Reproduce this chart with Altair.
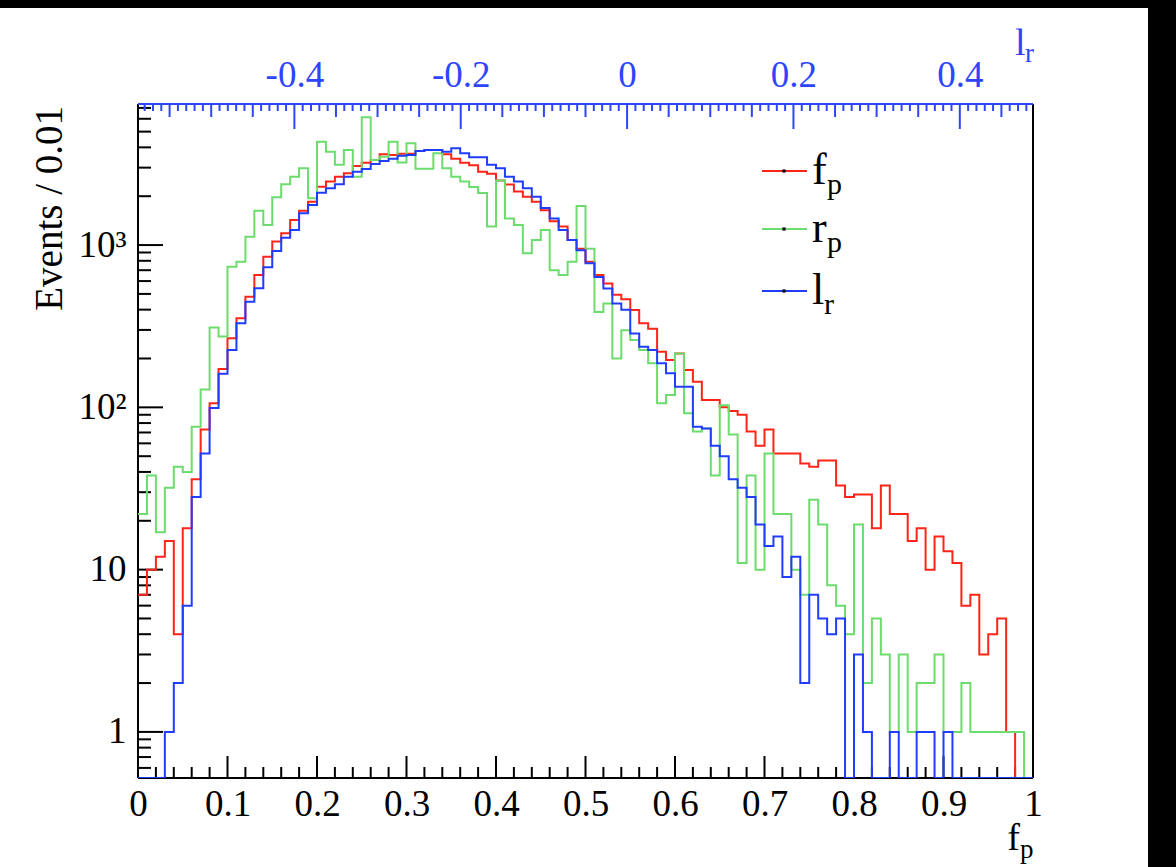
import altair as alt
import numpy as np
import pandas as pd

# ---------------- data ----------------
bin_width = 0.01

fp_counts = [7, 10, 12, 15, 4, 18, 36, 73, 106, 172,
             267, 354, 481, 654, 848, 1050, 1183, 1428, 1629, 1850,
             2290, 2460, 2640, 2767, 3070, 3220, 3345, 3630, 3590, 3650,
             3650, 3800, 3850, 3850, 3630, 3400, 3220, 3100, 2830, 2750,
             2500, 2360, 2140, 1988, 1850, 1640, 1400, 1300, 1075, 950,
             790, 654, 580, 494, 464, 398, 330, 305, 220, 196,
             215, 170, 144, 111, 111, 100, 95, 90, 71, 58,
             73, 52, 52, 52, 45, 43, 47, 47, 33, 28,
             29, 29, 18, 33, 22, 22, 15, 18, 10, 16,
             13, 11, 6, 7, 3, 4, 5, 1, 0, 0]

rp_counts = [22, 38, 17, 32, 43, 40, 76, 129, 310, 273,
             736, 790, 1127, 1629, 1331, 1968, 2370, 2640, 2970, 1940,
             4330, 3763, 3120, 3850, 2640, 6125, 3345, 3500, 4330, 3230,
             4240, 2950, 2950, 3675, 2970, 2640, 2460, 2280, 2090, 1300,
             2500, 1460, 1330, 890, 1075, 1240, 700, 654, 790, 1740,
             950, 387, 436, 200, 299, 260, 226, 187, 106, 119,
             215, 92, 71, 74, 38, 103, 68, 11, 38, 10,
             52, 22, 22, 10, 7, 27, 19, 8, 6, 4,
             19, 2, 5, 3, 1, 3, 1, 2, 2, 3,
             1, 1, 2, 1, 1, 1, 1, 1, 1, 0]

lr_counts = [0, 0, 0, 1, 2, 6, 28, 52, 99, 161,
             226, 330, 448, 542, 730, 920, 1111, 1239, 1570, 1766,
             2103, 2240, 2370, 2640, 2830, 2943, 3160, 3300, 3400, 3550,
             3590, 3800, 3850, 3850, 3760, 3945, 3675, 3476, 3476, 3130,
             2970, 2640, 2460, 2240, 1988, 1690, 1460, 1240, 1075, 930,
             772, 636, 540, 436, 400, 285, 236, 226, 187, 162,
             134, 134, 76, 74, 58, 50, 36, 32, 28, 19,
             14, 16, 9, 12, 2, 7, 5, 4, 5, 0,
             3, 1, 0, 0, 1, 0, 0, 1, 1, 0,
             1, 0, 0, 0, 0, 0, 0, 0, 0, 0]

series_main = ["f", "r", "l"]
series_sub = ["p", "p", "r"]
series_colors = ["#ff2418", "#6cdc6c", "#1f3cff"]

x_tick_values = [0, 0.1, 0.2, 0.3, 0.4, 0.5, 0.6, 0.7, 0.8, 0.9, 1]
y_tick_values = [1, 10, 100, 1000]
y_tick_labels = ["1", "10", "10²", "10³"]
lr_tick_values = [-0.4, -0.2, 0, 0.2, 0.4]

# ---------------- layout ----------------
W, H = 895, 674
Y_MIN, Y_MAX = 0.52, 7400
LR_MIN, LR_MAX = -0.588, 0.488
FONT = "Liberation Serif"
TOP_BLUE = "#2d45ff"
LBL = 37

xscale = alt.Scale(domain=[0, 1], nice=False, zero=False)
yscale = alt.Scale(type="log", domain=[Y_MIN, Y_MAX], nice=False)
lrscale = alt.Scale(domain=[LR_MIN, LR_MAX], nice=False, zero=False)
one = alt.Data(values=[{}])


def hist_df(counts):
    edges = np.round(np.arange(len(counts) + 1) * bin_width, 4)
    vals = list(counts) + [counts[-1]]
    vals = [v if v > 0 else Y_MIN for v in vals]
    return pd.DataFrame({"x": edges, "y": vals})


def hline(x1, x2, y, color, w=2):
    return alt.Chart(one).mark_rule(color=color, strokeWidth=w).encode(
        x=alt.value(x1), x2=alt.value(x2), y=alt.value(y))


def vline(x, y1, y2, color, w=2):
    return alt.Chart(one).mark_rule(color=color, strokeWidth=w).encode(
        x=alt.value(x), y=alt.value(y1), y2=alt.value(y2))


def txt(s, x, y, size, color="black", align="left", **kw):
    return alt.Chart(one).mark_text(text=s, font=FONT, fontSize=size, color=color,
                                    align=align, baseline="alphabetic", **kw).encode(
        x=alt.value(x), y=alt.value(y))


layers = []

# frame
layers += [vline(0, 0, H, "black"), vline(W, 0, H, "black"),
           hline(0, W, H, "black"), hline(0, W, 0, TOP_BLUE)]

# bottom ticks (f_p)
xt = np.round(np.arange(0, 1.0001, 0.02), 2)
xt_major = pd.DataFrame({"x": [v for v in xt if abs(v * 10 - round(v * 10)) < 1e-6]})
xt_minor = pd.DataFrame({"x": [v for v in xt if abs(v * 10 - round(v * 10)) >= 1e-6]})
layers.append(alt.Chart(xt_minor).mark_rule(color="black", strokeWidth=2).encode(
    x=alt.X("x:Q", scale=xscale, axis=None), y=alt.value(H), y2=alt.value(H - 11)))
layers.append(alt.Chart(xt_major).mark_rule(color="black", strokeWidth=2).encode(
    x=alt.X("x:Q", scale=xscale, axis=alt.Axis(
        values=x_tick_values, labelExpr="format(datum.value, '~g')", ticks=False, domain=False,
        grid=False, labelFont=FONT, labelFontSize=LBL, labelColor="black", labelPadding=8,
        labelFlush=False, labelOverlap=False, title=None)),
    y=alt.value(H), y2=alt.value(H - 22)))

# left ticks
yminor = []
for d in [0.1, 1, 10, 100, 1000]:
    for m in range(2, 10):
        v = round(m * d, 6)
        if Y_MIN <= v <= Y_MAX:
            yminor.append(v)
label_expr = "'1'"
for v, lab in zip(y_tick_values, y_tick_labels):
    label_expr = f"datum.value >= {v * 0.99} ? '{lab}' : ({label_expr})"
layers.append(alt.Chart(pd.DataFrame({"v": yminor})).mark_rule(color="black", strokeWidth=2).encode(
    y=alt.Y("v:Q", scale=yscale, axis=None), x=alt.value(0), x2=alt.value(13)))
layers.append(alt.Chart(pd.DataFrame({"v": y_tick_values})).mark_rule(color="black", strokeWidth=2).encode(
    y=alt.Y("v:Q", scale=yscale, axis=alt.Axis(
        values=y_tick_values, labelExpr=label_expr, ticks=False, domain=False, grid=False,
        labelFont=FONT, labelFontSize=LBL, labelColor="black", labelPadding=12,
        labelFlush=False, labelOverlap=False, title=None)),
    x=alt.value(0), x2=alt.value(25)))

# top ticks (l_r)
lt = np.round(np.arange(-0.58, LR_MAX + 1e-9, 0.01), 2)
def is_mult(v, s):
    return abs(v / s - round(v / s)) < 1e-6
lt_major = [v for v in lt if is_mult(v, 0.2)]
lt_mid = [v for v in lt if is_mult(v, 0.05) and not is_mult(v, 0.2)]
lt_minor = [v for v in lt if not is_mult(v, 0.05)]
layers.append(alt.Chart(pd.DataFrame({"lr": lt_minor})).mark_rule(color=TOP_BLUE, strokeWidth=2).encode(
    x=alt.X("lr:Q", scale=lrscale, axis=None), y=alt.value(0), y2=alt.value(7)))
layers.append(alt.Chart(pd.DataFrame({"lr": lt_mid})).mark_rule(color=TOP_BLUE, strokeWidth=2).encode(
    x=alt.X("lr:Q", scale=lrscale, axis=None), y=alt.value(0), y2=alt.value(13)))
layers.append(alt.Chart(pd.DataFrame({"lr": lt_major})).mark_rule(color=TOP_BLUE, strokeWidth=2).encode(
    x=alt.X("lr:Q", scale=lrscale, axis=alt.Axis(
        orient="top", values=lr_tick_values,
        labelExpr="datum.value < 0 ? '-' + format(-datum.value, '.1f') : (datum.value == 0 ? '0' : format(datum.value, '.1f'))",
        ticks=False, domain=False, grid=False, labelFont=FONT, labelFontSize=LBL,
        labelColor=TOP_BLUE, labelPadding=10, labelFlush=False, labelOverlap=False, title=None)),
    y=alt.value(0), y2=alt.value(25)))

# histograms
for counts, col in zip([fp_counts, rp_counts, lr_counts], series_colors):
    layers.append(alt.Chart(hist_df(counts)).mark_line(
        interpolate="step-after", color=col, strokeWidth=2, clip=True).encode(
        x=alt.X("x:Q", scale=xscale, axis=None),
        y=alt.Y("y:Q", scale=yscale, axis=None)))

# legend
for i, (m, s, col) in enumerate(zip(series_main, series_sub, series_colors)):
    ly = [67, 125, 187][i]
    layers.append(hline(624, 669, ly, col))
    layers.append(alt.Chart(one).mark_square(color="black", size=10, opacity=1).encode(
        x=alt.value(646), y=alt.value(ly)))
    layers.append(txt(m, 674, ly + 13, 44))
    mw = {"f": 15, "r": 15, "l": 12}[m]
    layers.append(txt(s, 674 + mw, ly + 23, 30))

# axis titles
layers.append(txt("Events / 0.01", -76, 2, 39, align="right", angle=270))
layers.append(txt("f", 882, 746, 38, align="right"))
layers.append(txt("p", 882, 754, 27))
layers.append(txt("l", 877, -49, 38, color=TOP_BLUE))
layers.append(txt("r", 887, -42, 27, color=TOP_BLUE))

# dark screenshot borders
layers.append(alt.Chart(one).mark_rect(color="black").encode(
    x=alt.value(-140), x2=alt.value(1045), y=alt.value(-106), y2=alt.value(-96)))
layers.append(alt.Chart(one).mark_rect(color="black").encode(
    x=alt.value(1010), x2=alt.value(1045), y=alt.value(-106), y2=alt.value(765)))

chart = alt.layer(*layers).resolve_scale(x="independent").resolve_axis(
    x="independent", y="independent").properties(
    width=W, height=H,
    autosize=alt.AutoSizeParams(type="none"),
    padding={"left": 138, "top": 104, "right": 143, "bottom": 89},
    background="white",
).configure_view(stroke=None)

chart.save("out.html", embed_options={"renderer": "svg", "actions": False})
